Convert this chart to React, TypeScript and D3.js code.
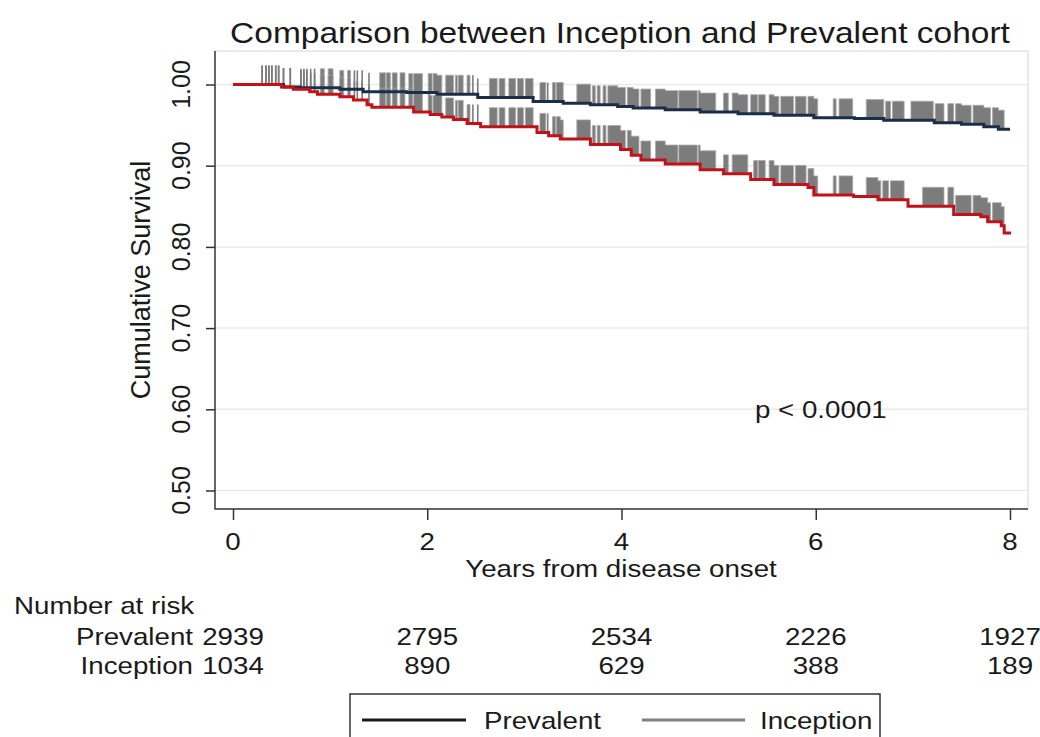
import React, { useEffect, useRef } from 'react';
import * as d3 from 'd3';

const chartTitle = 'Comparison between Inception and Prevalent cohort';
const xTitle = 'Years from disease onset';
const yTitle = 'Cumulative Survival';
const pValueLabel = 'p < 0.0001';
const xTicks = [0, 2, 4, 6, 8];
const yTicks = [0.5, 0.6, 0.7, 0.8, 0.9, 1.0];
const groups = ['Prevalent', 'Inception'];
const riskTimes = [0, 2, 4, 6, 8];
const prevalentAtRisk = [2939, 2795, 2534, 2226, 1927];
const inceptionAtRisk = [1034, 890, 629, 388, 189];

// [years, survival] from each step onwards
const prevalentSteps: [number, number][] = [
  [0, 1.0], [0.52, 0.997], [0.69, 0.996], [1.1, 0.994], [1.34, 0.991], [1.79, 0.99],
  [2.1, 0.988], [2.52, 0.984], [3.09, 0.979], [3.4, 0.977], [3.68, 0.975], [3.96, 0.973],
  [4.12, 0.971], [4.45, 0.969], [4.81, 0.966], [5.2, 0.964], [5.57, 0.962], [5.98, 0.959],
  [6.4, 0.958], [6.7, 0.956], [7.22, 0.953], [7.5, 0.951], [7.73, 0.948], [7.88, 0.945],
  [8.0, 0.945],
];
const inceptionSteps: [number, number][] = [
  [0, 1.0], [0.5, 0.997], [0.62, 0.994], [0.79, 0.991], [0.87, 0.988], [1.1, 0.985],
  [1.24, 0.981], [1.38, 0.975], [1.43, 0.972], [1.86, 0.966], [2.03, 0.963], [2.15, 0.96],
  [2.27, 0.957], [2.41, 0.952], [2.55, 0.948], [3.13, 0.941], [3.25, 0.937], [3.37, 0.933],
  [3.68, 0.926], [3.99, 0.92], [4.1, 0.913], [4.2, 0.907], [4.45, 0.902], [4.81, 0.895],
  [5.05, 0.89], [5.33, 0.883], [5.57, 0.877], [5.92, 0.873], [5.98, 0.864], [6.39, 0.862],
  [6.64, 0.858], [6.95, 0.85], [7.42, 0.84], [7.7, 0.837], [7.77, 0.831], [7.91, 0.826],
  [7.94, 0.817], [8.01, 0.817],
];

// censoring marks: single ticks and dense runs of ticks (years)
const censorTicks = [
  0.3, 0.34, 0.37, 0.4, 0.44, 0.47, 0.52, 0.59, 0.7, 0.73, 0.76, 0.8, 0.84,
  1.25, 1.28, 1.33, 1.4, 2.47, 2.52, 3.24,
];
const prevalentCensorBlocks: [number, number][] = [
  [0.9, 0.94], [0.98, 1.03], [1.1, 1.14], [1.18, 1.21], [1.51, 1.57], [1.58, 1.62],
  [1.64, 1.69], [1.72, 1.77], [1.81, 1.85], [1.86, 1.95], [2.01, 2.05], [2.06, 2.15],
  [2.19, 2.27], [2.29, 2.31], [2.32, 2.37], [2.41, 2.44], [2.64, 2.72], [2.74, 2.8],
  [2.84, 2.91], [2.93, 2.99], [3.01, 3.09], [3.16, 3.22], [3.29, 3.32], [3.33, 3.4],
  [3.54, 3.68], [3.7, 3.73], [3.75, 3.78], [3.81, 3.84], [3.86, 4.04], [4.06, 4.18],
  [4.2, 4.3], [4.35, 4.58], [4.59, 4.78], [4.79, 4.97], [5.05, 5.1], [5.14, 5.3],
  [5.33, 5.4], [5.41, 5.48], [5.52, 5.62], [5.64, 5.77], [5.79, 5.9], [5.92, 6.02],
  [6.18, 6.21], [6.24, 6.38], [6.52, 6.7], [6.72, 6.77], [6.79, 6.91], [6.98, 7.21],
  [7.23, 7.32], [7.36, 7.42], [7.44, 7.6], [7.62, 7.8], [7.82, 7.94],
];
const inceptionCensorBlocks: [number, number][] = [
  [0.9, 0.94], [0.98, 1.03], [1.1, 1.14], [1.18, 1.21], [1.51, 1.57], [1.58, 1.62],
  [1.64, 1.69], [1.72, 1.77], [1.81, 1.85], [1.86, 1.95], [2.01, 2.05], [2.06, 2.15],
  [2.19, 2.27], [2.29, 2.31], [2.32, 2.37], [2.41, 2.44], [2.64, 2.72], [2.74, 2.8],
  [2.84, 2.91], [2.93, 2.99], [3.01, 3.09], [3.16, 3.22], [3.29, 3.32], [3.33, 3.4],
  [3.54, 3.68], [3.7, 3.73], [3.75, 3.78], [3.81, 3.84], [3.86, 4.04], [4.06, 4.18],
  [4.2, 4.3], [4.35, 4.58], [4.59, 4.78], [4.79, 4.97], [5.05, 5.1], [5.14, 5.3],
  [5.36, 5.4], [5.41, 5.48], [5.52, 5.62], [5.64, 5.77], [5.79, 5.9], [5.92, 6.02],
  [6.18, 6.21], [6.24, 6.38], [6.52, 6.67], [6.69, 6.75], [6.77, 6.91], [7.1, 7.32],
  [7.36, 7.42], [7.44, 7.6], [7.62, 7.8], [7.82, 7.94],
];

const FONT = '"Liberation Sans", Arial, sans-serif';
const SX = 1.155; // the source image is stretched horizontally

const KaplanMeier = () => {
  const ref = useRef<SVGSVGElement | null>(null);

  useEffect(() => {
    document.body.style.margin = '0';
    const width = 1040;
    const height = 737;
    const plot = { left: 215, right: 1028, top: 51, bottom: 509 };

    const svg = d3.select(ref.current);
    svg.selectAll('*').remove();
    svg.attr('width', width).attr('height', height).style('font-family', FONT);

    svg.append('rect').attr('width', width).attr('height', height).attr('fill', '#fff');

    const xScale = d3.scaleLinear().domain([0, 8]).range([233, 1010]);
    const yScale = d3.scaleLinear().domain([0.5, 1.0]).range([490.5, 84.5]);

    const hText = (x: number, y: number, txt: string, size: number, anchor = 'start') =>
      svg.append('text')
        .attr('transform', `translate(${x},${y}) scale(${SX},1)`)
        .attr('text-anchor', anchor)
        .style('font-size', `${size}px`)
        .attr('fill', '#1a1a1a')
        .text(txt);

    // title
    hText(620, 43, chartTitle, 29, 'middle');

    // plot region frame (top and right)
    svg.append('path')
      .attr('d', `M${plot.left},${plot.top}H${plot.right}V${plot.bottom}`)
      .attr('fill', 'none')
      .attr('stroke', '#e4e4e4')
      .attr('stroke-width', 1.5);

    // grid
    svg.append('g')
      .selectAll('line')
      .data(yTicks)
      .join('line')
      .attr('x1', plot.left)
      .attr('x2', plot.right)
      .attr('y1', d => yScale(d))
      .attr('y2', d => yScale(d))
      .attr('stroke', '#eaeaea')
      .attr('stroke-width', 1.5);

    // axes
    const yAxis = svg.append('g')
      .attr('transform', `translate(${plot.left},0)`)
      .call(d3.axisLeft(yScale).tickValues(yTicks).tickSize(9).tickFormat(() => ''));
    yAxis.select('.domain').remove();
    yAxis.selectAll('line').attr('stroke', '#333').attr('stroke-width', 1.5);

    const xAxis = svg.append('g')
      .attr('transform', `translate(0,${plot.bottom})`)
      .call(d3.axisBottom(xScale).tickValues(xTicks).tickSize(11).tickFormat(() => ''));
    xAxis.select('.domain').remove();
    xAxis.selectAll('line').attr('stroke', '#333').attr('stroke-width', 1.5);

    svg.append('path')
      .attr('d', `M${plot.left},${plot.top}V${plot.bottom}H${plot.right}`)
      .attr('fill', 'none')
      .attr('stroke', '#333')
      .attr('stroke-width', 1.5);

    yTicks.forEach(v => {
      svg.append('text')
        .attr('transform', `translate(190,${yScale(v)}) rotate(-90)`)
        .attr('text-anchor', 'middle')
        .style('font-size', '25px')
        .attr('fill', '#1a1a1a')
        .text(d3.format('.2f')(v));
    });
    svg.append('text')
      .attr('transform', `translate(150,280) rotate(-90)`)
      .attr('text-anchor', 'middle')
      .style('font-size', '27px')
      .attr('fill', '#1a1a1a')
      .text(yTitle);

    xTicks.forEach(v => hText(xScale(v), 550, String(v), 24, 'middle'));
    hText(621, 577, xTitle, 24, 'middle');

    // survival curves with censoring marks
    const survAt = (steps: [number, number][], t: number) => {
      const i = d3.bisector((d: [number, number]) => d[0]).right(steps, t) - 1;
      return steps[Math.max(0, i)][1];
    };
    const markH = 19;
    const censorColor = '#7c7c7c';

    const drawCensor = (steps: [number, number][], blocks: [number, number][]) => {
      const g = svg.append('g');
      const area = d3.area<number>()
        .curve(d3.curveStepAfter)
        .x(t => xScale(t))
        .y0(t => yScale(survAt(steps, t)))
        .y1(t => yScale(survAt(steps, t)) - markH);
      blocks.forEach(([a, b]) => {
        const pts = [a, ...steps.map(s => s[0]).filter(t => t > a && t < b), b];
        g.append('path')
          .attr('d', area(pts))
          .attr('fill', censorColor)
          .attr('stroke', '#a8a8a8')
          .attr('stroke-width', 0.8);
      });
      g.selectAll('line.tick')
        .data(censorTicks)
        .join('line')
        .attr('x1', d => xScale(d))
        .attr('x2', d => xScale(d))
        .attr('y1', d => yScale(survAt(steps, d)))
        .attr('y2', d => yScale(survAt(steps, d)) - markH)
        .attr('stroke', censorColor)
        .attr('stroke-width', 1.6);
    };
    drawCensor(prevalentSteps, prevalentCensorBlocks);
    drawCensor(inceptionSteps, inceptionCensorBlocks);

    const line = d3.line<[number, number]>()
      .curve(d3.curveStepAfter)
      .x(d => xScale(d[0]))
      .y(d => yScale(d[1]));

    svg.append('path')
      .attr('d', line(prevalentSteps))
      .attr('fill', 'none')
      .attr('stroke', '#1c2d48')
      .attr('stroke-width', 3);
    svg.append('path')
      .attr('d', line(inceptionSteps))
      .attr('fill', 'none')
      .attr('stroke', '#c1121a')
      .attr('stroke-width', 3);

    hText(755, 418, pValueLabel, 24);

    // number at risk table
    hText(14, 614, 'Number at risk', 24);
    [prevalentAtRisk, inceptionAtRisk].forEach((row, r) => {
      const yy = 645 + r * 29;
      hText(193, yy, groups[r], 24, 'end');
      row.forEach((n, i) => hText(xScale(riskTimes[i]), yy, String(n), 24, 'middle'));
    });

    // legend
    svg.append('rect')
      .attr('x', 350)
      .attr('y', 694)
      .attr('width', 530)
      .attr('height', 70)
      .attr('fill', '#fff')
      .attr('stroke', '#333')
      .attr('stroke-width', 1.5);
    const legendItems = [
      { label: groups[0], color: '#1a1a1a', x1: 362, x2: 466, tx: 484 },
      { label: groups[1], color: '#808080', x1: 642, x2: 745, tx: 760 },
    ];
    legendItems.forEach(item => {
      svg.append('line')
        .attr('x1', item.x1)
        .attr('x2', item.x2)
        .attr('y1', 720)
        .attr('y2', 720)
        .attr('stroke', item.color)
        .attr('stroke-width', 3);
      hText(item.tx, 729, item.label, 24);
    });

    return () => {
      svg.selectAll('*').remove();
    };
  }, []);

  return <svg ref={ref} style={{ display: 'block' }} />;
};

export default function App() {
  return <KaplanMeier />;
}
